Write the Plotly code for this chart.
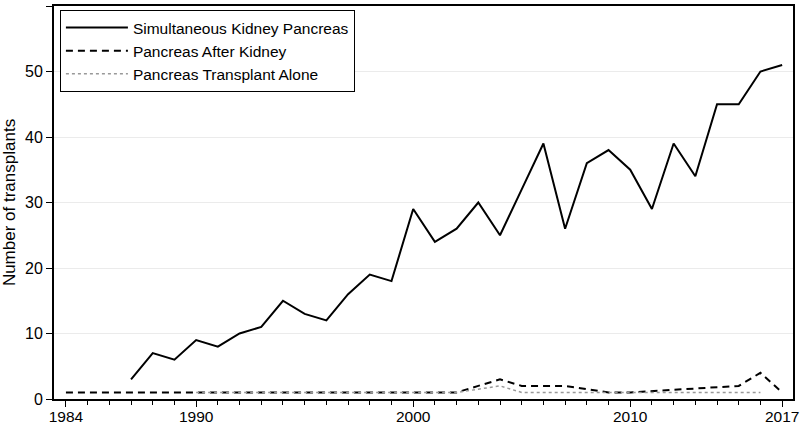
import plotly.graph_objects as go

years_skp = list(range(1987, 2018))
skp = [3, 7, 6, 9, 8, 10, 11, 15, 13, 12, 16, 19, 18, 29, 24, 26, 30, 25, 32, 39,
       26, 36, 38, 35, 29, 39, 34, 45, 45, 50, 51]

years_pak = list(range(1984, 2018))
pak = [1]*19 + [2, 3, 2, 2, 2, 1.5, 1, 1, 1.2, 1.4, 1.6, 1.8, 2, 4, 1]

years_pta = list(range(1990, 2017))
pta = [1]*13 + [1.5, 2] + [1]*12

x_ticks = [1984, 1990, 2000, 2010, 2017]
y_ticks = [0, 10, 20, 30, 40, 50, 60]

FONT = "Liberation Sans, Arial, sans-serif"

fig = go.Figure()
fig.add_trace(go.Scatter(x=years_skp, y=skp, mode="lines", name="Simultaneous Kidney Pancreas",
                         line=dict(color="black", width=2)))
fig.add_trace(go.Scatter(x=years_pak, y=pak, mode="lines", name="Pancreas After Kidney",
                         line=dict(color="black", width=2, dash="7px,5px")))
fig.add_trace(go.Scatter(x=years_pta, y=pta, mode="lines", name="Pancreas Transplant Alone",
                         line=dict(color="#999999", width=1.5, dash="dot")))

fig.update_layout(
    width=800, height=424,
    margin=dict(l=54, r=7, t=6, b=25),
    paper_bgcolor="white", plot_bgcolor="white",
    font=dict(family=FONT, size=16, color="black"),
    showlegend=True,
    legend=dict(x=0.008, y=0.99, xanchor="left", yanchor="top",
                bordercolor="black", borderwidth=1, bgcolor="white",
                font=dict(size=15.5), itemwidth=62, tracegroupgap=0),
)
fig.update_xaxes(range=[1983.45, 2017.5], tickmode="array", tickvals=x_ticks,
                 automargin=False, ticklabeloverflow="allow",
                 ticks="outside", ticklen=6, tickwidth=1, tickcolor="black",
                 showline=True, linecolor="black", linewidth=2, mirror=True,
                 showgrid=False, zeroline=False, ticklabelstandoff=-4,
                 minor=dict(tickvals=list(range(1984, 2018)), ticks="outside",
                            ticklen=4, tickcolor="black", tickwidth=1, showgrid=False),
                 tickfont=dict(size=15.5))
fig.update_yaxes(range=[0, 60], tickmode="array", tickvals=y_ticks,
                 automargin=False,
                 ticks="outside", ticklen=6, tickwidth=1, tickcolor="black",
                 showline=True, linecolor="black", linewidth=2, mirror=True,
                 showgrid=True, gridcolor="#ebebeb", gridwidth=1, zeroline=False,
                 title=dict(text="Number of transplants", font=dict(size=17), standoff=6),
                 tickfont=dict(size=16))

fig.write_html("out.html", config={"displayModeBar": False},
               post_script="document.body.style.margin='0';document.body.style.overflow='hidden';")
